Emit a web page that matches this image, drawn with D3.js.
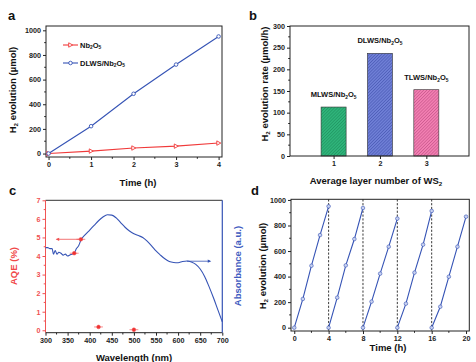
<!DOCTYPE html>
<html>
<head>
<meta charset="utf-8">
<script src="https://cdn.jsdelivr.net/npm/d3@7"></script>
<style>
  body { margin: 0; background: #fff; }
  svg { display: block; font-family: "Liberation Sans", Arial, sans-serif; font-weight: bold; }
</style>
</head>
<body>
<svg id="canvas" width="476" height="362"></svg>
<script>
// panel a
const timeA = [0, 1, 2, 3, 4];
const nb2o5 = [0, 20, 45, 60, 85];
const dlws = [0, 222, 485, 722, 950];

// panel b
const layers = [1, 2, 3];
const rates = [113, 237, 153];
const barNames = ["MLWS", "DLWS", "TLWS"];

// panel c
const aqeWave = [365, 380, 420, 500];
const aqeVal = [4.15, 4.9, 0.18, 0.03];
const absWave = [300, 305, 310, 315, 318, 322, 326, 330, 335, 340, 345, 350, 355, 360, 365, 370, 375, 380, 390, 400, 410, 420, 430, 440, 450, 460, 470, 480, 490, 500, 510, 520, 530, 540, 550, 560, 570, 580, 590, 600, 610, 620, 630, 640, 650, 660, 670, 680, 690, 700];
const absVal = [4.45, 4.45, 4.4, 4.4, 4.1, 4.3, 4.1, 4.2, 4.15, 4.05, 4.1, 4.0, 4.05, 4.1, 4.15, 4.4, 4.55, 4.85, 5.15, 5.4, 5.65, 5.9, 6.1, 6.22, 6.2, 6.05, 5.8, 5.55, 5.35, 5.2, 5.1, 5.0, 4.8, 4.55, 4.27, 4.05, 3.85, 3.7, 3.65, 3.64, 3.7, 3.73, 3.68, 3.55, 3.3, 2.9, 2.35, 1.75, 1.1, 0.45];

// panel d
const cycles = [
  [0, 225, 485, 725, 950],
  [0, 235, 488, 694, 937],
  [0, 204, 423, 634, 854],
  [0, 188, 431, 650, 914],
  [0, 164, 399, 634, 869]
];

const svg = d3.select("#canvas");
const red = "#f03a3a";
const blue = "#3553b5";
const tickFont = 7.2;
const titleFont = 9.5;

// text with subscript pieces: parts = [[text, isSub], ...]
function richText(sel, parts, size) {
  parts.forEach(p => {
    const t = sel.append("tspan").text(p[0]);
    if (p[1]) t.attr("font-size", size * 0.65).attr("dy", size * 0.25);
    else if (sel.selectAll("tspan").size() > 1) t.attr("dy", -size * 0.25).attr("font-size", size);
  });
  return sel;
}

function frame(g, x0, x1, y0, y1, color) {
  g.append("rect").attr("x", x0).attr("y", y0).attr("width", x1 - x0).attr("height", y1 - y0)
    .attr("fill", "none").attr("stroke", color || "#222").attr("stroke-width", 1);
}

function axes(g, x, y, xt, yt, opts) {
  opts = opts || {};
  const xa = d3.axisBottom(x).tickValues(xt).tickSize(3).tickPadding(2).tickFormat(opts.xfmt || d3.format("d"));
  const ya = d3.axisLeft(y).tickValues(yt).tickSize(3).tickPadding(2).tickFormat(opts.yfmt || d3.format("d"));
  const gx = g.append("g").attr("transform", `translate(0,${y.range()[0]})`).call(xa);
  const gy = g.append("g").attr("transform", `translate(${x.range()[0]},0)`).call(ya);
  [gx, gy].forEach(a => {
    a.select(".domain").remove();
    a.selectAll("text").attr("font-size", tickFont).attr("font-family", "Liberation Sans, Arial, sans-serif").attr("font-weight", "bold").attr("fill", "#222");
    a.selectAll("line").attr("stroke", "#222");
  });
  if (opts.ycolor) {
    gy.selectAll("text").attr("fill", opts.ycolor);
    gy.selectAll("line").attr("stroke", opts.ycolor);
  }
  // minor ticks
  if (opts.xminor) {
    g.append("g").selectAll("line").data(opts.xminor).join("line")
      .attr("x1", d => x(d)).attr("x2", d => x(d))
      .attr("y1", y.range()[0]).attr("y2", y.range()[0] + 1.8).attr("stroke", "#222");
  }
  if (opts.yminor) {
    g.append("g").selectAll("line").data(opts.yminor).join("line")
      .attr("y1", d => y(d)).attr("y2", d => y(d))
      .attr("x1", x.range()[0]).attr("x2", x.range()[0] - 1.8).attr("stroke", opts.ycolor || "#222");
  }
}

function panelLabel(txt, x, y) {
  svg.append("text").attr("x", x).attr("y", y).attr("font-size", 13).attr("fill", "#111").text(txt);
}

function yTitle(parts, x, y, color, size) {
  const t = svg.append("text").attr("transform", `translate(${x},${y}) rotate(-90)`)
    .attr("text-anchor", "middle").attr("font-size", size || titleFont).attr("fill", color || "#111");
  richText(t, parts, size || titleFont);
}

function xTitle(parts, x, y) {
  const t = svg.append("text").attr("x", x).attr("y", y)
    .attr("text-anchor", "middle").attr("font-size", titleFont).attr("fill", "#111");
  richText(t, parts, titleFont);
}

// ---------- panel a ----------
(function() {
  const g = svg.append("g");
  const x = d3.scaleLinear().domain([-0.06, 4.08]).range([46, 222]);
  const y = d3.scaleLinear().domain([-28, 1035]).range([157, 26]);
  frame(g, 46, 222, 26, 157);
  axes(g, x, y, timeA, d3.range(0, 1001, 200), {
    xminor: [0.5, 1.5, 2.5, 3.5],
    yminor: d3.range(100, 1000, 200)
  });
  const line = d3.line().x((d, i) => x(timeA[i])).y(d => y(d));
  const series = [{ v: nb2o5, c: red }, { v: dlws, c: blue }];
  series.forEach(s => {
    g.append("path").datum(s.v).attr("d", line).attr("fill", "none").attr("stroke", s.c).attr("stroke-width", 1.1);
    g.selectAll(null).data(s.v).join("path")
      .attr("transform", (d, i) => `translate(${x(timeA[i])},${y(d)})`)
      .attr("d", s.c === red ? "M-1.8,-2.2L2.2,0L-1.8,2.2Z" : d3.symbol(d3.symbolCircle, 10)())
      .attr("fill", "#fff").attr("stroke", s.c).attr("stroke-width", 0.9);
  });
  // legend
  const legend = [{ name: [["Nb", 0], ["2", 1], ["O", 0], ["5", 1]], c: red, y: 45 },
                  { name: [["DLWS/Nb", 0], ["2", 1], ["O", 0], ["5", 1]], c: blue, y: 63 }];
  legend.forEach(l => {
    g.append("line").attr("x1", 63).attr("x2", 78).attr("y1", l.y).attr("y2", l.y).attr("stroke", l.c).attr("stroke-width", 1.1);
    g.append("path").attr("transform", `translate(70.5,${l.y})`)
      .attr("d", l.c === red ? "M-1.8,-2.2L2.2,0L-1.8,2.2Z" : d3.symbol(d3.symbolCircle, 10)())
      .attr("fill", "#fff").attr("stroke", l.c).attr("stroke-width", 0.9);
    const t = g.append("text").attr("x", 80).attr("y", l.y + 2.6).attr("font-size", 7.5).attr("fill", "#111");
    richText(t, l.name, 7.5);
  });
  panelLabel("a", 8, 20);
  yTitle([["H", 0], ["2", 1], [" evolution (\u00b5mol)", 0]], 16, 90);
  xTitle([["Time (h)", 0]], 138, 186);
})();

// ---------- panel b ----------
(function() {
  const g = svg.append("g");
  const x = d3.scaleLinear().domain([0.06, 3.92]).range([290, 469]);
  const y = d3.scaleLinear().domain([0, 300]).range([156, 26]);
  const fills = [["#2fb47a", "#137a4e"], ["#6f7fd6", "#2c3c98"], ["#f27fb2", "#a8386c"]];
  const defs = svg.append("defs");
  fills.forEach((f, i) => {
    const p = defs.append("pattern").attr("id", "hatch" + i).attr("patternUnits", "userSpaceOnUse")
      .attr("width", 2.2).attr("height", 2.2).attr("patternTransform", "rotate(45)");
    p.append("rect").attr("width", 2.2).attr("height", 2.2).attr("fill", f[0]);
    p.append("line").attr("x1", 0).attr("x2", 0).attr("y1", 0).attr("y2", 2.2).attr("stroke", f[1]).attr("stroke-width", 0.7);
  });
  const bw = x(1.27) - x(1);
  g.selectAll("rect.bar").data(rates).join("rect").attr("class", "bar")
    .attr("x", (d, i) => x(layers[i]) - bw).attr("width", bw * 2)
    .attr("y", d => y(d)).attr("height", d => y(0) - y(d))
    .attr("fill", (d, i) => `url(#hatch${i})`).attr("stroke", "#333").attr("stroke-width", 0.6);
  frame(g, 290, 469, 26, 156);
  axes(g, x, y, layers, d3.range(0, 301, 50), { yminor: d3.range(25, 300, 50) });
  g.selectAll("text.lbl").data(rates).join("text").attr("class", "lbl")
    .attr("x", (d, i) => x(layers[i])).attr("y", d => y(d) - 10)
    .attr("text-anchor", "middle").attr("font-size", 7.5).attr("fill", "#111")
    .each(function(d, i) {
      richText(d3.select(this), [[barNames[i] + "/Nb", 0], ["2", 1], ["O", 0], ["5", 1]], 7.5);
    });
  panelLabel("b", 249, 20);
  yTitle([["H", 0], ["2", 1], [" evolution rate (\u00b5mol/h)", 0]], 268, 84);
  xTitle([["Average layer number of WS", 0], ["2", 1]], 376, 184);
})();

// ---------- panel c ----------
(function() {
  const g = svg.append("g");
  const x = d3.scaleLinear().domain([300, 700]).range([45.5, 222.3]);
  const y = d3.scaleLinear().domain([-0.13, 7]).range([332.7, 200.3]);
  // frame with colored sides
  g.append("line").attr("x1", 45.5).attr("x2", 222.3).attr("y1", 200.3).attr("y2", 200.3).attr("stroke", "#333");
  g.append("line").attr("x1", 45.5).attr("x2", 222.3).attr("y1", 332.7).attr("y2", 332.7).attr("stroke", "#222");
  g.append("line").attr("x1", 45.5).attr("x2", 45.5).attr("y1", 200.3).attr("y2", 332.7).attr("stroke", "#f05555");
  g.append("line").attr("x1", 222.3).attr("x2", 222.3).attr("y1", 200.3).attr("y2", 332.7).attr("stroke", blue).attr("stroke-width", 1.2);
  axes(g, x, y, d3.range(300, 701, 50), d3.range(0, 8, 1), {
    xminor: d3.range(325, 700, 50),
    yminor: d3.range(0.5, 7, 1),
    ycolor: "#f05050"
  });
  const line = d3.line().x((d, i) => x(absWave[i])).y(d => y(d)).curve(d3.curveMonotoneX);
  g.append("path").datum(absVal).attr("d", line).attr("fill", "none").attr("stroke", blue).attr("stroke-width", 1.1);
  // AQE points with horizontal error bars
  g.selectAll("line.err").data(aqeVal).join("line").attr("class", "err")
    .attr("x1", (d, i) => x(aqeWave[i] - 10)).attr("x2", (d, i) => x(aqeWave[i] + 10))
    .attr("y1", d => y(d)).attr("y2", d => y(d)).attr("stroke", "#f47070").attr("stroke-width", 0.8);
  g.selectAll("circle.aqe").data(aqeVal).join("circle").attr("class", "aqe")
    .attr("cx", (d, i) => x(aqeWave[i])).attr("cy", d => y(d)).attr("r", 1.9)
    .attr("fill", "#f03030").attr("stroke", "#f06060").attr("stroke-width", 0.5);
  // arrows pointing to the axes
  g.append("line").attr("x1", x(380)).attr("x2", x(325)).attr("y1", y(4.9)).attr("y2", y(4.9)).attr("stroke", "#f05050").attr("stroke-width", 0.8);
  g.append("path").attr("d", `M${x(323)},${y(4.9)}l3.5,-1.6l0,3.2Z`).attr("fill", "#f05050");
  g.append("line").attr("x1", x(620)).attr("x2", x(672)).attr("y1", y(3.72)).attr("y2", y(3.72)).attr("stroke", blue).attr("stroke-width", 0.8);
  g.append("path").attr("d", `M${x(675)},${y(3.72)}l-3.5,-1.6l0,3.2Z`).attr("fill", blue);
  panelLabel("c", 9, 195);
  yTitle([["AQE (%)", 0]], 17, 266, "#f04848");
  yTitle([["Absorbance (a.u.)", 0]], 241, 266, "#3f5cc0");
  xTitle([["Wavelength (nm)", 0]], 134, 361);
})();

// ---------- panel d ----------
(function() {
  const g = svg.append("g");
  const x = d3.scaleLinear().domain([-0.38, 20.38]).range([291, 469.3]);
  const y = d3.scaleLinear().domain([-26, 1005]).range([331, 199.3]);
  frame(g, 291, 469.3, 199.3, 331);
  axes(g, x, y, d3.range(0, 21, 4), d3.range(0, 1001, 200), {
    xminor: d3.range(2, 20, 4),
    yminor: d3.range(100, 1000, 200)
  });
  g.selectAll("line.div").data([4, 8, 12, 16]).join("line").attr("class", "div")
    .attr("x1", d => x(d)).attr("x2", d => x(d)).attr("y1", 199.3).attr("y2", 331)
    .attr("stroke", "#222").attr("stroke-width", 0.9).attr("stroke-dasharray", "2.2,1.6");
  cycles.forEach((c, k) => {
    const line = d3.line().x((d, i) => x(k * 4 + i)).y(d => y(d));
    g.append("path").datum(c).attr("d", line).attr("fill", "none").attr("stroke", blue).attr("stroke-width", 1.1);
    g.selectAll(null).data(c).join("circle")
      .attr("cx", (d, i) => x(k * 4 + i)).attr("cy", d => y(d)).attr("r", 1.8)
      .attr("fill", "#c9d2f0").attr("stroke", blue).attr("stroke-width", 0.6);
  });
  panelLabel("d", 251, 195);
  yTitle([["H", 0], ["2", 1], [" evolution (\u00b5mol)", 0]], 266, 266);
  xTitle([["Time (h)", 0]], 388, 351);
})();
</script>
</body>
</html>
